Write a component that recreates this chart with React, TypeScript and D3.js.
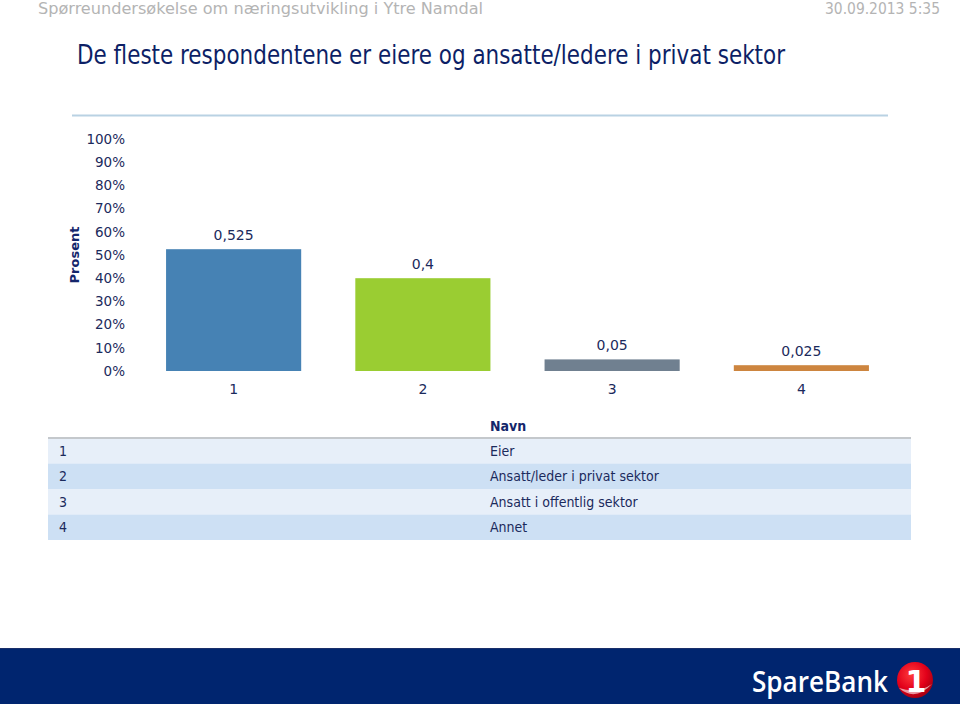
import React from 'react';
import * as d3 from 'd3';

const categories = ['1', '2', '3', '4'];
const values = [0.525, 0.4, 0.05, 0.025];
const valueLabels = ['0,525', '0,4', '0,05', '0,025'];
const barColors = ['#4682b4', '#9acd32', '#708090', '#cd853f'];
const yTicks = [0, 0.1, 0.2, 0.3, 0.4, 0.5, 0.6, 0.7, 0.8, 0.9, 1];
const tableNames = ['Eier', 'Ansatt/leder i privat sektor', 'Ansatt i offentlig sektor', 'Annet'];

const W = 960;
const H = 704;
const navy = '#1b2a5c';
const verdana = "'DejaVu Sans', Verdana, sans-serif";
const narrow = "'Liberation Sans Narrow', 'DejaVu Sans Condensed', sans-serif";
const condensed = "'DejaVu Sans Condensed', sans-serif";

const App = () => {
  const x = d3.scaleBand<string>()
    .domain(categories)
    .range([139, 896])
    .paddingInner(0.286)
    .paddingOuter(0.143);

  const y = d3.scaleLinear().domain([0, 1]).range([371, 139]);
  const pct = d3.format('.0%');

  // table rows share the category list
  const rowY = d3.scaleBand<string>().domain(categories).range([438, 540]);

  return (
    <svg width={W} height={H} style={{ position: 'absolute', left: 0, top: 0, background: '#fff' }}>
      <defs>
        <radialGradient id="ball" cx="40%" cy="35%" r="70%">
          <stop offset="0%" stopColor="#ff3b3b" />
          <stop offset="60%" stopColor="#e2001a" />
          <stop offset="100%" stopColor="#a00010" />
        </radialGradient>
      </defs>

      {/* header */}
      <text x={38} y={14} fontFamily={narrow} fontSize={16} fill="#b4b4b4"
        textLength={445} lengthAdjust="spacingAndGlyphs">
        Spørreundersøkelse om næringsutvikling i Ytre Namdal
      </text>
      <text x={940} y={14} fontFamily={narrow} fontSize={16} fill="#b4b4b4" textAnchor="end"
        textLength={115} lengthAdjust="spacingAndGlyphs">
        30.09.2013 5:35
      </text>
      <text x={77} y={64} fontFamily={narrow} fontSize={27} fill="#0d1f66"
        textLength={708} lengthAdjust="spacingAndGlyphs">
        De fleste respondentene er eiere og ansatte/ledere i privat sektor
      </text>
      <line x1={72} x2={888} y1={115.5} y2={115.5} stroke="#b9d2e3" strokeWidth={2} />

      {/* y axis */}
      <text transform="translate(79,255) rotate(-90)" textAnchor="middle" fontFamily={verdana}
        fontWeight="bold" fontSize={13} fill="#14266b">
        Prosent
      </text>
      {yTicks.map(t => (
        <text key={t} x={125} y={y(t)} dy="0.35em" textAnchor="end" fontFamily={verdana}
          fontSize={13.5} fill={navy}>
          {pct(t)}
        </text>
      ))}

      {/* bars */}
      {categories.map((c, i) => (
        <g key={c}>
          <rect x={x(c)} y={y(values[i])} width={x.bandwidth()} height={y(0) - y(values[i])}
            fill={barColors[i]} />
          <text x={(x(c) ?? 0) + x.bandwidth() / 2} y={y(values[i]) - 9} textAnchor="middle"
            fontFamily={verdana} fontSize={14} fill={navy}>
            {valueLabels[i]}
          </text>
          <text x={(x(c) ?? 0) + x.bandwidth() / 2} y={394} textAnchor="middle"
            fontFamily={verdana} fontSize={14} fill={navy}>
            {c}
          </text>
        </g>
      ))}

      {/* table */}
      <text x={490} y={431} fontFamily={condensed} fontWeight="bold" fontSize={14} fill="#14266b">
        Navn
      </text>
      {categories.map((c, i) => (
        <g key={'row' + c}>
          <rect x={48} y={rowY(c)} width={863} height={rowY.bandwidth()}
            fill={i % 2 === 0 ? '#e7eff9' : '#cde0f4'} />
          <text x={59} y={(rowY(c) ?? 0) + rowY.bandwidth() / 2} dy="0.35em"
            fontFamily={condensed} fontSize={14} fill={navy}>
            {c}
          </text>
          <text x={490} y={(rowY(c) ?? 0) + rowY.bandwidth() / 2} dy="0.35em"
            fontFamily={condensed} fontSize={14} fill={navy}>
            {tableNames[i]}
          </text>
        </g>
      ))}
      <line x1={48} x2={911} y1={438} y2={438} stroke="#c4c8cc" strokeWidth={2} />

      {/* footer */}
      <rect x={0} y={648} width={W} height={H - 648} fill="#00256f" />
      <line x1={0} x2={W} y1={648.5} y2={648.5} stroke="#1a2f6a" />
      <text x={752} y={692} fontFamily="'Open Sans', 'DejaVu Sans', sans-serif" fontWeight={600}
        fontSize={28} fill="#fff" textLength={136} lengthAdjust="spacingAndGlyphs">
        SpareBank
      </text>
      <circle cx={915} cy={680} r={18} fill="url(#ball)" />
      <text x={916} y={692} textAnchor="middle" fontFamily="'DejaVu Sans', sans-serif"
        fontWeight="bold" fontSize={30} fill="#fff">
        1
      </text>
      <path d="M899,688 Q915,702 932,684 Q918,694 899,688 Z" fill="#ffffff" opacity={0.6} />
    </svg>
  );
};

export default App;
